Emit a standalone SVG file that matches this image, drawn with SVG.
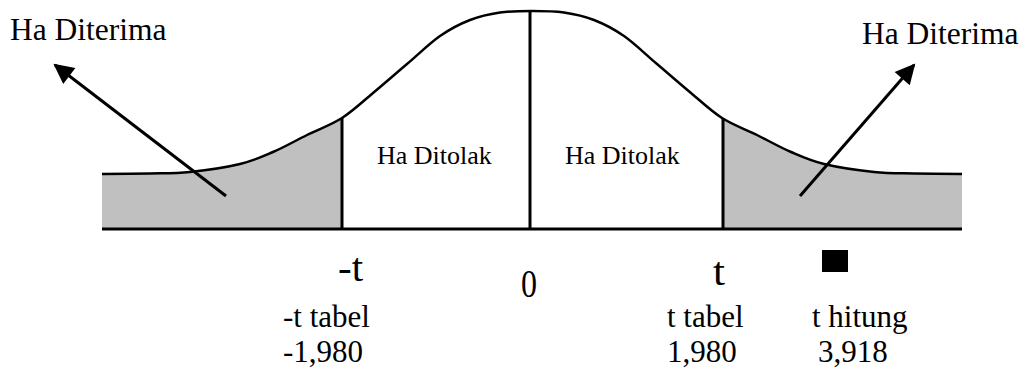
<svg xmlns="http://www.w3.org/2000/svg" width="1023" height="373" viewBox="0 0 1023 373">
<style>
.ln{stroke:#000;stroke-width:3;fill:none}
.curve{stroke:#000;stroke-width:2.5;fill:none}
.shade{fill:#c0c0c0;stroke:none}
.serif{font-family:"Liberation Serif","Times New Roman",serif;fill:#000}
.big{font-size:31.5px}
.mid{font-size:26px}
.lab{font-size:31px}
.axis{font-family:"Liberation Serif","Times New Roman",serif;font-size:40px;fill:#000}
</style>
<defs>
<marker id="arr" viewBox="0 0 10 10" refX="9" refY="5" markerWidth="26" markerHeight="20" markerUnits="userSpaceOnUse" orient="auto">
<path d="M0,0 L10,5 L0,10 z" fill="#000"/>
</marker>
</defs>
<rect width="1023" height="373" fill="#fff"/>
<g id="left-tail">
<path class="shade" d="M102,174 C110,173.9 135.3,173.8 150,173.5 C164.7,173.2 175,173.6 190,172 C205,170.4 226.2,167.3 240,164 C253.8,160.7 261.8,156.8 273,152 C284.2,147.2 295.5,140.7 307,135 C318.5,129.3 331,125 342,118 L342,229 L102,229 Z"/>
</g>
<g id="right-tail">
<path class="shade" d="M722,118 C733,125 745.5,129.3 757,135 C768.5,140.7 779.8,147.2 791,152 C802.2,156.8 810.2,160.7 824,164 C837.8,167.3 859,170.4 874,172 C889,173.6 899.3,173.2 914,173.5 C928.7,173.8 954,173.9 962,174 L962,229 L722,229 Z"/>
</g>
<g id="curve">
<path class="curve" d="M102,174 C110,173.9 135.3,173.8 150,173.5 C164.7,173.2 175,173.6 190,172 C205,170.4 226.2,167.3 240,164 C253.8,160.7 261.8,156.8 273,152 C284.2,147.2 295.5,140.7 307,135 C318.5,129.3 331,125 342,118 C353,111 362.2,102 373,93 C383.8,84 395.8,73.5 407,64 C418.2,54.5 429.5,43.3 440,36 C450.5,28.7 460,23.9 470,20 C480,16.1 489.7,14 500,12.5 C510.3,11 521.3,11 532,11 C542.7,11 553.7,11 564,12.5 C574.3,14 584,16.1 594,20 C604,23.9 613.5,28.7 624,36 C634.5,43.3 645.8,54.5 657,64 C668.2,73.5 680.2,84 691,93 C701.8,102 711,111 722,118 C733,125 745.5,129.3 757,135 C768.5,140.7 779.8,147.2 791,152 C802.2,156.8 810.2,160.7 824,164 C837.8,167.3 859,170.4 874,172 C889,173.6 899.3,173.2 914,173.5 C928.7,173.8 954,173.9 962,174"/>
</g>
<g id="axis">
<line class="ln" x1="102" y1="229" x2="962" y2="229"/>
<line class="ln" x1="342" y1="118" x2="342" y2="230"/>
<line class="ln" x1="530" y1="10" x2="530" y2="230"/>
<line class="ln" x1="723" y1="118" x2="723" y2="230"/>
</g>
<g id="connectors">
<line class="ln" x1="226" y1="196" x2="55" y2="65" marker-end="url(#arr)"/>
<line class="ln" x1="800" y1="196" x2="914" y2="65" marker-end="url(#arr)"/>
</g>
<g id="label-left-accept"><text class="serif big" x="10" y="40">Ha Diterima</text></g>
<g id="label-right-accept"><text class="serif big" x="862" y="44">Ha Diterima</text></g>
<g id="label-left-reject"><text class="serif mid" x="377" y="164">Ha Ditolak</text></g>
<g id="label-right-reject"><text class="serif mid" x="565" y="164">Ha Ditolak</text></g>
<g id="tick-minus-t"><text class="axis" x="338" y="281" textLength="25" lengthAdjust="spacingAndGlyphs">-t</text></g>
<g id="tick-zero"><text class="axis" x="521" y="297" textLength="16" lengthAdjust="spacingAndGlyphs">0</text></g>
<g id="tick-t"><text class="axis" x="713" y="285" textLength="12" lengthAdjust="spacingAndGlyphs">t</text></g>
<g id="marker-thitung"><rect x="822" y="250" width="26" height="22" fill="#000"/></g>
<g id="label-ttabel-neg">
<text class="serif lab" x="283" y="327">-t tabel</text>
<text class="serif lab" x="283" y="362">-1,980</text>
</g>
<g id="label-ttabel">
<text class="serif lab" x="667" y="327">t tabel</text>
<text class="serif lab" x="667" y="362">1,980</text>
</g>
<g id="label-thitung">
<text class="serif lab" x="812" y="327">t hitung</text>
<text class="serif lab" x="818" y="362">3,918</text>
</g>
</svg>
